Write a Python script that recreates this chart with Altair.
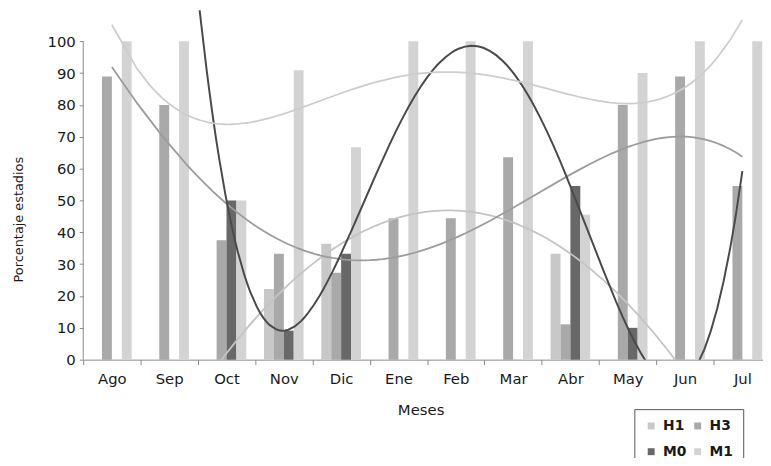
import altair as alt
import pandas as pd

months = ["Ago", "Sep", "Oct", "Nov", "Dic", "Ene", "Feb", "Mar", "Abr", "May", "Jun", "Jul"]
series = ["H1", "H3", "M0", "M1"]
h1 = [None, None, None, 22.2, 36.4, None, None, None, 33.3, None, None, None]
h3 = [88.9, 80.0, 37.5, 33.3, 27.3, 44.4, 44.4, 63.6, 11.1, 80.0, 88.9, 54.5]
m0 = [None, None, 50.0, 9.1, 33.3, None, None, None, 54.5, 10.0, None, None]
m1 = [100.0, 100.0, 50.0, 90.9, 66.7, 100.0, 100.0, 100.0, 45.5, 90.0, 100.0, 100.0]
trend_order = {"H1": 2, "H3": 4, "M0": 4, "M1": 4}

bar_colors = ["#c8c8c8", "#a9a9a9", "#686868", "#d3d3d3"]
trend_colors = {"H1": "#c4c4c4", "H3": "#9c9c9c", "M0": "#4a4a4a", "M1": "#cdcdcd"}

rows = []
for s, vals in zip(series, [h1, h3, m0, m1]):
    for i, (m, v) in enumerate(zip(months, vals)):
        if v is not None:
            rows.append({"mes": m, "idx": i + 1, "serie": s, "slot": series.index(s), "valor": v})
df = pd.DataFrame(rows)

FONT = "DejaVu Sans"
BW = 0.1727
xscale = alt.Scale(domain=[0.5, 12.36], nice=False, zero=False)
yscale = alt.Scale(domain=[0, 109.7], nice=False, zero=True)

tick_vals = [i / 2 for i in range(1, 25)]
label_expr = "".join(f"datum.value == {i + 1} ? '{m}' : " for i, m in enumerate(months)) + "''"

xaxis = alt.Axis(
    values=tick_vals, labelExpr=label_expr, title="Meses", grid=False,
    labelOverlap=False, labelFlush=False, tickSize=5, labelPadding=7,
    tickOpacity={"condition": {"test": "datum.value % 1 === 0", "value": 0}, "value": 1},
    domainColor="#8a8a8a", tickColor="#8a8a8a", labelColor="#1a1a1a",
    labelFont=FONT, labelFontSize=15, titleFont=FONT, titleFontSize=15,
    titleFontWeight="normal", titleColor="#1a1a1a", titleX=341, titleY=50,
    titleBaseline="middle", titleAlign="center",
)
yaxis = alt.Axis(
    values=list(range(0, 101, 10)), title="Porcentaje estadios", grid=False,
    domain=False, tickSize=4, labelPadding=4, tickColor="#8a8a8a", labelOverlap=False,
    labelColor="#1a1a1a", labelFont=FONT, labelFontSize=15,
    titleFont=FONT, titleFontSize=13, titleFontWeight="normal", titleColor="#1a1a1a",
    titleX=-65, titleY=211, titleBaseline="middle", titleAngle=270, titleAlign="center",
)

base = alt.Chart(df)

bars = base.transform_calculate(
    x0=f"datum.idx + (datum.slot - 2) * {BW}",
    x1=f"datum.idx + (datum.slot - 1) * {BW}",
).mark_bar().encode(
    x=alt.X("x0:Q", scale=xscale, axis=xaxis),
    x2="x1:Q",
    y=alt.Y("valor:Q", scale=yscale, axis=yaxis),
    y2=alt.Y2(datum=0),
    color=alt.Color(
        "serie:N",
        scale=alt.Scale(domain=series, range=bar_colors),
        legend=alt.Legend(
            orient="none", legendX=557, legendY=403, columns=2, direction="horizontal",
            title=None, symbolType="square", symbolSize=49, symbolStrokeWidth=0,
            labelFont=FONT, labelFontSize=14, labelFontWeight="bold", labelColor="#1a1a1a",
            strokeColor="#555555", padding=10, rowPadding=12, columnPadding=4,
            labelOffset=5, fillColor="white",
        ),
    ),
)

trends = []
for s in series:
    trends.append(
        base.transform_filter(alt.datum.serie == s)
        .transform_regression("idx", "valor", method="poly", order=trend_order[s], extent=[1, 12])
        .mark_line(clip=True, strokeWidth=2 if s == "M0" else 1.8, color=trend_colors[s])
        .encode(
            x=alt.X("idx:Q", scale=xscale, axis=xaxis),
            y=alt.Y("valor:Q", scale=yscale, axis=yaxis),
        )
    )

axis_df = pd.DataFrame({"y0": [0], "y1": [100]})
yline = alt.Chart(axis_df).mark_rule(color="#8a8a8a", strokeWidth=1).encode(
    x=alt.value(0),
    y=alt.Y("y0:Q", scale=yscale, axis=yaxis),
    y2="y1:Q",
)

chart = alt.layer(bars, *trends, yline).properties(
    width=687, height=353,
    autosize=alt.AutoSizeParams(type="none"),
    padding={"left": 76, "top": 0, "right": 0, "bottom": 97},
    background="white",
).configure_view(stroke=None)

chart.save("out.html", embed_options={"renderer": "svg", "actions": False})
